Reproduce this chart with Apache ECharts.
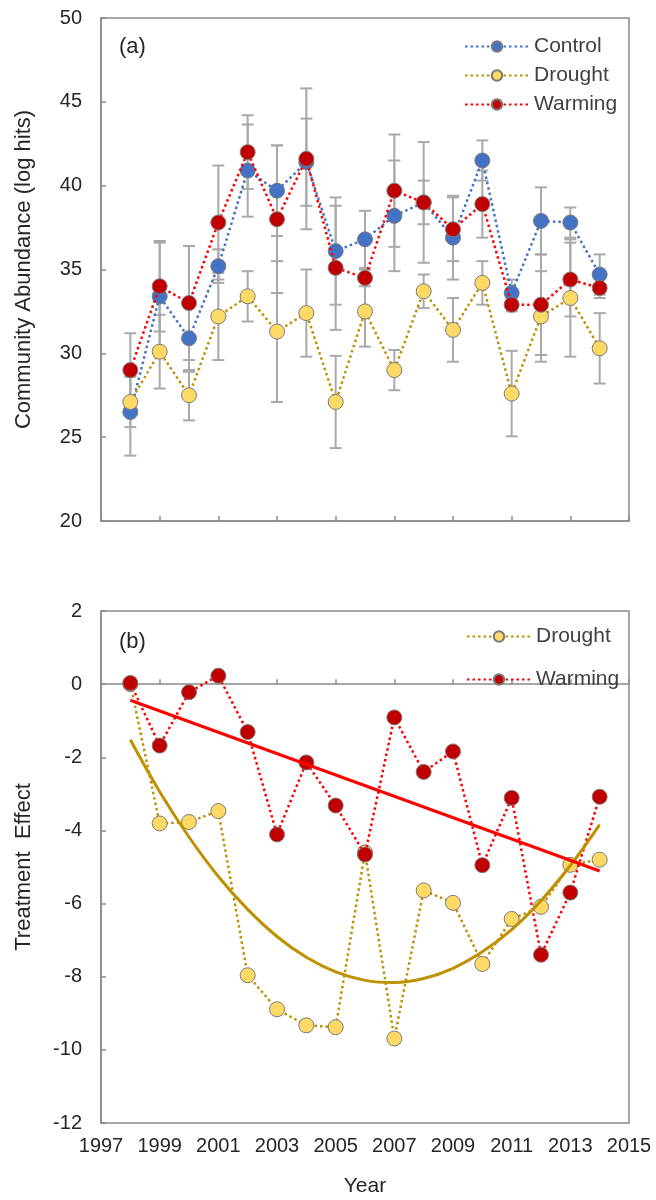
<!DOCTYPE html>
<html>
<head>
<meta charset="utf-8">
<script src="https://cdn.jsdelivr.net/npm/echarts@6/dist/echarts.min.js"></script>
<style>
  html, body { margin: 0; padding: 0; background: #ffffff; }
  #chart { width: 656px; height: 1200px; }
</style>
</head>
<body>
<div id="chart"></div>
<script>
// Survey years
const years = [1998, 1999, 2000, 2001, 2002, 2003, 2004, 2005, 2006, 2007, 2008, 2009, 2010, 2011, 2012, 2013, 2014];

// (a) Community abundance (log hits), means and standard errors
const control     = [26.5, 33.4, 30.9, 35.2, 40.9, 39.7, 41.4, 36.1, 36.8, 38.2, 39.0, 36.9, 41.5, 33.6, 37.9, 37.8, 34.7];
const controlErr  = [2.6, 3.2, 2.0, 1.0, 2.75, 2.7, 2.6, 3.2, 1.7, 3.3, 1.3, 2.5, 1.2, 0.8, 2.0, 0.9, 1.2];
const drought     = [27.1, 30.1, 27.5, 32.2, 33.4, 31.3, 32.4, 27.1, 32.5, 29.0, 33.7, 31.4, 34.2, 27.6, 32.2, 33.3, 30.3];
const droughtErr  = [1.5, 2.2, 1.5, 2.6, 1.5, 4.2, 2.6, 2.75, 2.1, 1.2, 1.0, 1.9, 1.3, 2.55, 2.7, 3.5, 2.1];
const warming     = [29.0, 34.0, 33.0, 37.8, 42.0, 38.0, 41.6, 35.1, 34.5, 39.7, 39.0, 37.4, 38.9, 32.9, 32.9, 34.4, 33.9];
const warmingErr  = [2.2, 2.7, 3.4, 3.4, 2.2, 4.4, 4.2, 3.7, 0.5, 3.35, 3.6, 1.9, 2.0, 0.4, 3.0, 2.2, 0.6];

// (b) Treatment effects
const droughtEffect = [0.0, -3.81, -3.77, -3.47, -7.96, -8.89, -9.33, -9.38, -4.6, -9.69, -5.64, -5.98, -7.65, -6.42, -6.09, -4.94, -4.80];
const warmingEffect = [0.03, -1.68, -0.22, 0.23, -1.31, -4.11, -2.14, -3.32, -4.66, -0.91, -2.40, -1.84, -4.95, -3.11, -7.40, -5.70, -3.08];

// Fitted trends: quadratic for drought, linear for warming
const droughtFit = [-1.52, -2.94, -4.18, -5.26, -6.16, -6.90, -7.47, -7.87, -8.10, -8.16, -8.05, -7.77, -7.32, -6.71, -5.92, -4.96, -3.84];
const warmingFitYears = [1998, 2014];
const warmingFit = [-0.44, -5.11];

// Axis ranges and ticks
const xRange = { min: 1997, max: 2015, interval: 2 };
const yRangeA = { min: 20, max: 50, interval: 5 };
const yRangeB = { min: -12, max: 2, interval: 2 };

const FONT = 'Liberation Sans, Arial, sans-serif';
const TEXT = '#262626';
const FRAME = '#8a8a8a';
const ERR = '#a9a9a9';

const C_BLUE = '#4472C4', C_YEL = '#FFD966', C_RED = '#C00000';
const L_BLUE = '#4472C4', L_GOLD = '#BF9000', L_RED = '#FF0000';

const pairs = (xs, ys) => xs.map((x, i) => [x, ys[i]]);
const errData = (xs, ys, es) => xs.map((x, i) => [x, ys[i] - es[i], ys[i] + es[i]]);

function errorBar(params, api) {
  const x = api.value(0);
  const lo = api.coord([x, api.value(1)]);
  const hi = api.coord([x, api.value(2)]);
  const w = 6;
  const style = { stroke: ERR, lineWidth: 2, fill: null };
  return {
    type: 'group',
    children: [
      { type: 'line', shape: { x1: lo[0], y1: lo[1], x2: hi[0], y2: hi[1] }, style },
      { type: 'line', shape: { x1: hi[0] - w, y1: hi[1], x2: hi[0] + w, y2: hi[1] }, style },
      { type: 'line', shape: { x1: lo[0] - w, y1: lo[1], x2: lo[0] + w, y2: lo[1] }, style }
    ]
  };
}

function xAxisCfg(gridIndex, showLabels) {
  return {
    type: 'value', gridIndex, min: xRange.min, max: xRange.max, interval: xRange.interval,
    axisLine: { show: true, lineStyle: { color: FRAME, width: 1.5 } },
    axisTick: { show: true, inside: true, length: 5, lineStyle: { color: FRAME, width: 1.5 } },
    axisLabel: { show: showLabels, color: TEXT, fontFamily: FONT, fontSize: 20, margin: 13,
                 formatter: v => String(v) },
    splitLine: { show: false },
    name: showLabels ? 'Year' : '', nameLocation: 'middle', nameGap: 53,
    nameTextStyle: { color: TEXT, fontFamily: FONT, fontSize: 21 }
  };
}

function yAxisCfg(gridIndex, r, name) {
  return {
    type: 'value', gridIndex, min: r.min, max: r.max, interval: r.interval,
    axisLine: { show: true, lineStyle: { color: FRAME, width: 1.5 } },
    axisTick: { show: true, inside: true, length: 5, lineStyle: { color: FRAME, width: 1.5 } },
    axisLabel: { color: TEXT, fontFamily: FONT, fontSize: 20, margin: 19 },
    splitLine: { show: false },
    name, nameLocation: 'middle', nameGap: 66,
    nameTextStyle: { color: TEXT, fontFamily: FONT, fontSize: 22 }
  };
}

function pointSeries(name, xi, data, fill, lineColor, z) {
  return {
    name, type: 'line', xAxisIndex: xi, yAxisIndex: xi, data,
    symbol: 'circle', symbolSize: 15, z,
    itemStyle: { color: fill, borderColor: '#7a7a7a', borderWidth: 1 },
    lineStyle: { color: lineColor, width: 2.5, type: [2.5, 3] },
    emphasis: { disabled: true }, animation: false
  };
}

function errSeries(xi, data) {
  return {
    type: 'custom', xAxisIndex: xi, yAxisIndex: xi, data, renderItem: errorBar,
    z: 1, silent: true, animation: false
  };
}

const legendText = { color: '#404040', fontFamily: FONT, fontSize: 21 };

const option = {
  backgroundColor: '#ffffff',
  animation: false,
  grid: [
    { left: 101, top: 18, width: 528, height: 503, show: true, borderColor: FRAME, borderWidth: 1.5 },
    { left: 101, top: 611, width: 528, height: 512, show: true, borderColor: FRAME, borderWidth: 1.5 }
  ],
  xAxis: [xAxisCfg(0, false), xAxisCfg(1, true)],
  yAxis: [
    yAxisCfg(0, yRangeA, 'Community Abundance (log hits)'),
    yAxisCfg(1, yRangeB, 'Treatment  Effect')
  ],
  legend: [
    {
      data: ['Control', 'Drought', 'Warming'], orient: 'vertical', left: 459, top: 31,
      itemWidth: 64, itemHeight: 13, itemGap: 8, textStyle: legendText, selectedMode: false
    },
    {
      data: ['Drought', 'Warming'], orient: 'vertical', left: 461, top: 621,
      itemWidth: 64, itemHeight: 13, itemGap: 22, textStyle: legendText, selectedMode: false
    }
  ],
  graphic: [
    { type: 'text', left: 119, top: 36, style: { text: '(a)', font: '22px ' + FONT, fill: TEXT } },
    { type: 'text', left: 119, top: 631, style: { text: '(b)', font: '22px ' + FONT, fill: TEXT } }
  ],
  series: [
    errSeries(0, errData(years, control, controlErr)),
    errSeries(0, errData(years, drought, droughtErr)),
    errSeries(0, errData(years, warming, warmingErr)),
    pointSeries('Control', 0, pairs(years, control), C_BLUE, L_BLUE, 2),
    pointSeries('Drought', 0, pairs(years, drought), C_YEL, L_GOLD, 3),
    pointSeries('Warming', 0, pairs(years, warming), C_RED, L_RED, 4),

    pointSeries('Drought', 1, pairs(years, droughtEffect), C_YEL, L_GOLD, 3),
    pointSeries('Warming', 1, pairs(years, warmingEffect), C_RED, L_RED, 4),
    {
      name: 'Drought trend', type: 'line', xAxisIndex: 1, yAxisIndex: 1,
      data: pairs(years, droughtFit), smooth: 0.4, symbol: 'none', z: 5,
      lineStyle: { color: L_GOLD, width: 3 }, animation: false, silent: true
    },
    {
      name: 'Warming trend', type: 'line', xAxisIndex: 1, yAxisIndex: 1,
      data: pairs(warmingFitYears, warmingFit), symbol: 'none', z: 5,
      lineStyle: { color: L_RED, width: 3 }, animation: false, silent: true
    }
  ]
};

const chart = echarts.init(document.getElementById('chart'), null, { renderer: 'canvas' });
chart.setOption(option);
</script>
</body>
</html>
